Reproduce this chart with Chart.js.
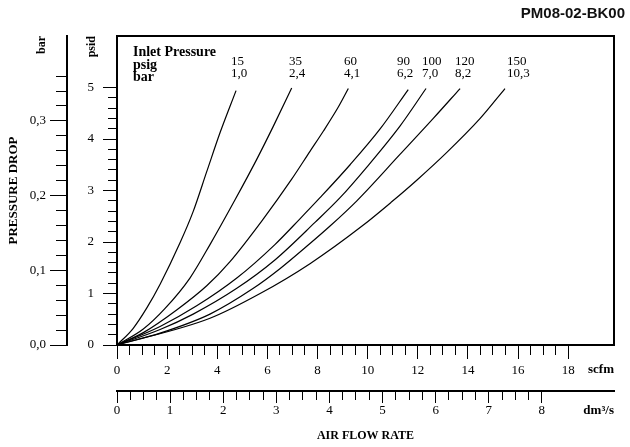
<!DOCTYPE html>
<html><head><meta charset="utf-8">
<script src="https://cdn.jsdelivr.net/npm/chart.js@4/dist/chart.umd.min.js"></script>
<style>html,body{margin:0;padding:0;background:#fff}#wrap{width:630px;height:447px}</style>
</head><body><div id="wrap"><canvas id="c" width="630" height="447"></canvas></div>
<script>
// ---- data ----
const inletPsig = ['15','35','60','90','100','120','150'];
const inletBar  = ['1,0','2,4','4,1','6,2','7,0','8,2','10,3'];

const flow15  = [0, 0.64, 1.19, 1.72, 2.51, 3.03, 3.59, 4.11, 4.75];
const drop15  = [0, 0.32, 0.72, 1.18, 1.98, 2.58, 3.38, 4.12, 4.94];
const flow35  = [0, 1.05, 1.90, 2.91, 3.71, 4.71, 5.57, 6.24, 6.97];
const drop35  = [0, 0.31, 0.70, 1.30, 1.95, 2.82, 3.60, 4.25, 4.99];
const flow60  = [0, 1.05, 2.38, 3.58, 4.51, 5.84, 6.97, 7.70, 8.23, 8.83, 9.23];
const drop60  = [0, 0.24, 0.68, 1.15, 1.62, 2.45, 3.22, 3.76, 4.15, 4.62, 4.98];
const flow90  = [0, 1.72, 3.18, 4.78, 6.30, 7.30, 8.10, 9.30, 10.49, 11.62];
const drop90  = [0, 0.36, 0.76, 1.30, 1.95, 2.45, 2.86, 3.50, 4.19, 4.96];
const flow100 = [0, 1.72, 3.04, 4.78, 6.30, 7.90, 8.90, 9.96, 11.29, 12.33];
const drop100 = [0, 0.30, 0.60, 1.10, 1.65, 2.38, 2.86, 3.45, 4.25, 4.98];
const flow120 = [0, 1.72, 3.71, 5.44, 6.50, 7.70, 8.50, 9.57, 11.29, 12.62, 13.69];
const drop120 = [0, 0.23, 0.60, 1.10, 1.48, 1.97, 2.31, 2.80, 3.70, 4.40, 4.98];
const flow150 = [0, 3.71, 5.71, 7.70, 9.83, 10.96, 11.96, 13.16, 14.49, 15.48];
const drop150 = [0, 0.52, 1.00, 1.58, 2.33, 2.78, 3.20, 3.74, 4.40, 4.98];

const flows = [flow15, flow35, flow60, flow90, flow100, flow120, flow150];
const drops = [drop15, drop35, drop60, drop90, drop100, drop120, drop150];

// axis ranges / unit conversions
const SCFM_MAX = 19.83;          // right edge of plot, scfm
const SCFM_TICK_END = 18;
const PSID_MAX = 6;
const PSID_TICK_END = 5;
const SCFM_PER_DM3S = 2.11888;
const PSI_PER_BAR = 14.5038;
const DM3S_TICK_END = 8;
const BAR_TICK_END = 0.36;

// ---- styling / layout ----
const SER = "'Liberation Serif','Times New Roman',serif";
const SANS = "'Liberation Sans',Arial,sans-serif";
const labelStartX = [231, 289, 344, 397, 422, 455, 507];

const near = (a, b) => Math.abs(a - b) < 1e-6;
const isInt = v => near(v, Math.round(v));

const datasets = inletPsig.map((p, i) => ({
  label: p + ' psig',
  data: flows[i].map((f, j) => ({x: f, y: drops[i][j]})),
  borderColor: '#000',
  borderWidth: 1.2,
  pointRadius: 0,
  fill: false,
  cubicInterpolationMode: 'monotone',
  xAxisID: 'x',
  yAxisID: 'y'
}));

const annot = {
  id: 'annot',
  afterDraw(chart) {
    const ctx = chart.ctx;
    ctx.save();
    ctx.fillStyle = '#000';
    ctx.textBaseline = 'middle';
    ctx.textAlign = 'left';
    ctx.font = 'bold 14px ' + SER;
    ctx.fillText('Inlet Pressure', 133, 52);
    ctx.fillText('psig', 133, 65);
    ctx.fillText('bar', 133, 77);
    ctx.font = '13px ' + SER;
    inletPsig.forEach((p, i) => {
      ctx.fillText(p, labelStartX[i], 62);
      ctx.fillText(inletBar[i], labelStartX[i], 74);
    });
    ctx.font = 'bold 13px ' + SER;
    ctx.textAlign = 'right';
    ctx.fillText('dm\u00B3/s', 614, 411);
    ctx.translate(42, 36);
    ctx.rotate(-Math.PI / 2);
    ctx.font = 'bold 12px ' + SER;
    ctx.textAlign = 'right';
    ctx.fillText('bar', 0, 0);
    ctx.restore();
  }
};

const tickFont = {family: SER, size: 13};
const black = '#000', clear = 'rgba(0,0,0,0)';

new Chart(document.getElementById('c'), {
  type: 'line',
  data: {datasets},
  plugins: [annot],
  options: {
    responsive: false,
    animation: false,
    devicePixelRatio: 1,
    layout: {padding: {left: 0, right: 5, top: 0, bottom: 0}},
    plugins: {
      legend: {display: false},
      tooltip: {enabled: false},
      title: {
        display: true, text: 'PM08-02-BK00', align: 'end', color: '#111',
        font: {family: SANS, size: 15, weight: 'bold', lineHeight: 1.2},
        padding: {top: 5, bottom: 13}
      }
    },
    scales: {
      x: {
        type: 'linear', position: 'bottom', weight: 0, min: 0, max: SCFM_MAX,
        ticks: {stepSize: 0.5, autoSkip: false, maxRotation: 0, includeBounds: false, padding: 4, color: black, font: tickFont,
          callback: v => (v <= SCFM_TICK_END + 1e-6 && isInt(v / 2)) ? String(Math.round(v)) : ''},
        grid: {drawOnChartArea: false, tickLength: 14, tickWidth: 1,
          tickColor: c => (c.tick && c.tick.value <= SCFM_TICK_END + 1e-6) ? black : clear,
          tickBorderDash: c => (c.tick && isInt(c.tick.value / 2)) ? [] : [9, 100]},
        border: {color: black, width: 2},
        title: {display: true, text: 'scfm', align: 'end', color: black, font: {family: SER, size: 13, weight: 'bold'}, padding: {top: 0, bottom: 14}},
        afterFit: s => { s.height = 46; }
      },
      x2: {
        type: 'linear', position: 'bottom', weight: 1, min: 0, max: SCFM_MAX / SCFM_PER_DM3S,
        ticks: {stepSize: 0.25, autoSkip: false, maxRotation: 0, includeBounds: false, padding: 0, color: black, font: tickFont,
          callback: v => (v <= DM3S_TICK_END + 1e-6 && isInt(v)) ? String(Math.round(v)) : ''},
        grid: {drawOnChartArea: false, tickLength: 12, tickWidth: 1,
          tickColor: c => (c.tick && c.tick.value <= DM3S_TICK_END + 1e-6) ? black : clear,
          tickBorderDash: c => (c.tick && isInt(c.tick.value)) ? [] : [8, 100]},
        border: {color: black, width: 2},
        title: {display: true, text: 'AIR FLOW RATE', align: 'center', color: black, font: {family: SER, size: 12, weight: 'bold'}, padding: {top: 0, bottom: 4}},
        afterFit: s => { s.height = 56; }
      },
      xT: {
        type: 'linear', position: 'top', min: 0, max: SCFM_MAX,
        ticks: {display: false},
        grid: {drawOnChartArea: false, drawTicks: false},
        border: {color: black, width: 2},
        afterFit: s => { s.height = 0; }
      },
      y: {
        type: 'linear', position: 'left', weight: 0, min: 0, max: PSID_MAX,
        ticks: {stepSize: 0.2, autoSkip: false, includeBounds: false, padding: 9, color: black, font: tickFont,
          callback: v => (v <= PSID_TICK_END + 1e-6 && isInt(v)) ? String(Math.round(v)) : ''},
        grid: {drawOnChartArea: false, tickLength: 14, tickWidth: 1,
          tickColor: c => (c.tick && c.tick.value <= PSID_TICK_END + 1e-6) ? black : clear,
          tickBorderDash: c => (c.tick && isInt(c.tick.value)) ? [] : [0, 5, 9, 100]},
        border: {color: black, width: 2},
        title: {display: true, text: 'psid', align: 'end', color: black, font: {family: SER, size: 12, weight: 'bold'}, padding: {top: 18, bottom: 0}},
        afterFit: s => { s.width = 50; }
      },
      y2: {
        type: 'linear', position: 'left', weight: 1, min: 0, max: PSID_MAX / PSI_PER_BAR,
        ticks: {stepSize: 0.02, autoSkip: false, includeBounds: false, padding: 4, color: black, font: tickFont,
          callback: v => (v <= 0.3 + 1e-6 && isInt(v * 10)) ? v.toFixed(1).replace('.', ',') : ''},
        grid: {drawOnChartArea: false, tickLength: 17, tickWidth: 1,
          tickColor: c => (c.tick && c.tick.value <= BAR_TICK_END + 1e-6) ? black : clear,
          tickBorderDash: c => (c.tick && isInt(c.tick.value * 10)) ? [] : [0, 6, 11, 100]},
        border: {color: black, width: 2},
        title: {display: true, text: 'PRESSURE DROP', align: 'center', color: black, font: {family: SER, size: 13, weight: 'bold'}, padding: {top: 6, bottom: 0}},
        afterFit: s => { s.width = 67; }
      },
      yR: {
        type: 'linear', position: 'right', min: 0, max: PSID_MAX,
        ticks: {display: false},
        grid: {drawOnChartArea: false, drawTicks: false},
        border: {color: black, width: 2},
        afterFit: s => { s.width = 11; }
      }
    }
  }
});
</script>
</body></html>
